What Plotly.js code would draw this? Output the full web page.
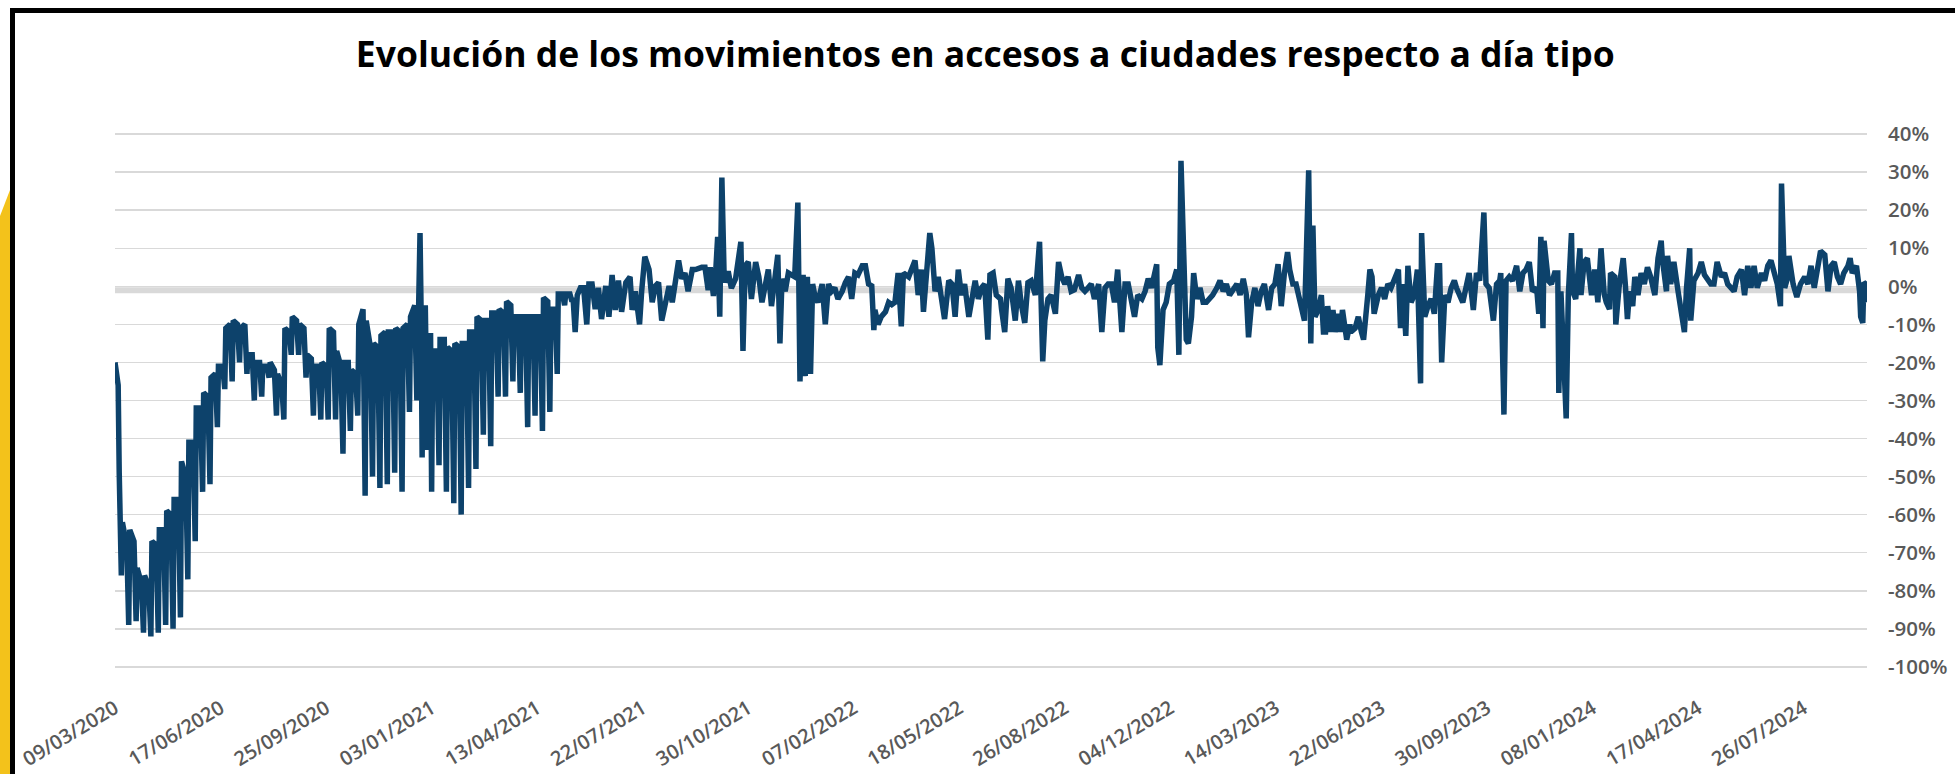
<!DOCTYPE html>
<html lang="es">
<head>
<meta charset="utf-8">
<title>Evolución de los movimientos en accesos a ciudades</title>
<script src="https://cdn.plot.ly/plotly-3.0.1.min.js"></script>
<style>
  html, body { margin: 0; padding: 0; background: #ffffff; }
  #wrap { position: relative; width: 1955px; height: 774px; overflow: hidden; background: #ffffff; }
  #chart { position: absolute; left: 0; top: 0; width: 1955px; height: 774px; }
  .frame-top { position: absolute; left: 10px; top: 8px; width: 1945px; height: 5px; background: #000; }
  .frame-left { position: absolute; left: 10px; top: 8px; width: 5px; height: 766px; background: #000; }
  .yellow { position: absolute; left: 0; top: 190px; width: 10px; height: 584px; background: #f3c21b;
            clip-path: polygon(0 26px, 100% 0, 100% 100%, 0 100%); }
</style>
</head>
<body>
<div id="wrap">
  <div class="yellow"></div>
  <div id="chart"></div>
  <div class="frame-top"></div>
  <div class="frame-left"></div>
</div>
<script>
// ---- Data (day index from 09/03/2020, value in % vs. typical day) ----
const titulo = 'Evolución de los movimientos en accesos a ciudades respecto a día tipo';

// Tick labels every 100 days
const posicionesX = [0, 100, 200, 300, 400, 500, 600, 700, 800, 900, 1000, 1100, 1200, 1300, 1400, 1500, 1600];
const etiquetasX = ['09/03/2020', '17/06/2020', '25/09/2020', '03/01/2021', '13/04/2021', '22/07/2021',
  '30/10/2021', '07/02/2022', '18/05/2022', '26/08/2022', '04/12/2022', '14/03/2023', '22/06/2023',
  '30/09/2023', '08/01/2024', '17/04/2024', '26/07/2024'];
const marcasY = [40, 30, 20, 10, 0, -10, -20, -30, -40, -50, -60, -70, -80, -90, -100];

// 2020: lockdown and recovery
const diasFase1 = [
  0, 2, 3, 4, 5, 6, 7, 9, 11, 12, 13,
  14, 18, 20, 21, 25, 27, 28, 32, 34,
  35, 39, 41, 42, 46, 48, 49, 53, 55,
  56, 60, 62, 63, 67, 69, 70, 74, 76,
  77, 81, 83, 84, 88, 90, 91, 95, 97,
  98, 102, 104, 105, 109, 111, 112, 116, 118,
  119, 123, 125, 126, 130, 132, 133, 137, 139,
  140, 144, 146, 147, 151, 153, 154, 158, 160,
  161, 165, 167, 168, 172, 174, 175, 179, 181,
  182, 186, 188, 189, 193, 195, 196, 200, 202,
  203, 207, 209, 210, 214, 216, 217, 221, 223,
  224, 228, 230, 231, 235, 237, 238, 242, 244,
  245, 249, 251, 252, 256, 258, 259, 263, 265,
  266, 270, 272
];
const valoresFase1 = [
  -20, -24, -26, -49, -68, -76, -62, -65, -66, -80, -89,
  -64, -67, -88, -74, -78, -91, -76, -79, -92,
  -67, -68, -91, -64, -64, -89, -59, -60, -90,
  -56, -56, -87, -46, -50, -77, -41, -41, -67,
  -32, -32, -54, -28, -29, -52, -24, -23, -37,
  -21, -21, -27, -11, -10, -25, -9, -10, -20,
  -11, -10, -23, -18, -18, -30, -20, -20, -29,
  -21, -21, -24, -20, -22, -34, -23, -26, -35,
  -11, -12, -18, -8, -9, -18, -10, -11, -24,
  -18, -19, -34, -21, -21, -35, -20, -21, -35,
  -11, -12, -35, -17, -21, -44, -20, -20, -38,
  -22, -23, -34, -10, -6, -55, -9, -16, -50,
  -15, -16, -53, -13, -12, -52, -12, -12, -49,
  -11, -12, -54
];

// Winter / spring 2021
const diasFase2 = [
  273, 277, 279, 280, 284, 286,
  287, 289, 290, 291, 292, 293,
  294, 296, 297, 299, 300,
  301, 305, 307, 308, 312, 314, 315, 319, 321,
  322, 326, 328, 329, 333, 335, 336, 340, 342,
  343, 347, 349, 350, 354, 356, 357, 361, 363,
  364, 368, 370, 371, 375, 377, 378, 382, 384,
  385, 389, 391, 392, 396, 398, 399, 403, 405,
  406, 410, 412, 413, 417, 419, 420, 424, 426,
  427, 431, 433, 434, 436
];
const valoresFase2 = [
  -11, -10, -33, -8, -5, -30,
  -6, 14, -6, -45, -14, -40,
  -5, -43, -13, -13, -54,
  -17, -17, -47, -14, -14, -54, -16, -17, -57,
  -15, -16, -60, -15, -15, -53, -12, -12, -48,
  -8, -9, -39, -9, -9, -42, -7, -7, -29,
  -6, -7, -29, -4, -5, -25, -8, -8, -28,
  -8, -8, -37, -8, -8, -34, -8, -8, -38,
  -3, -4, -33, -6, -6, -23, -2, -2, -5,
  -2, -2, -4, -3, -12
];

// Mid 2021 – early 2023
const diasFase3 = [
  438, 441, 444, 447, 449, 452, 455, 458, 461, 465,
  468, 471, 474, 477, 480, 484, 488, 490, 493, 497,
  499, 502, 506, 509, 512, 515, 518, 521, 525, 528,
  531, 534, 537, 540, 543, 547, 550, 553, 556, 559,
  562, 564, 567, 569, 571, 573, 575, 577, 578, 581,
  584, 588, 591, 593, 595, 597, 600, 603, 607, 610,
  613, 616, 619, 622, 625, 628, 630, 632, 635, 638,
  641, 644, 647, 649, 652, 654, 656, 659, 661, 663,
  666, 670, 673, 676, 679, 682, 685, 689, 692, 695,
  698, 701, 704, 708, 711, 714, 717, 719, 720, 723,
  726, 730, 733, 736, 739, 742, 745, 747, 752, 758,
  761, 764, 766, 769, 772, 774, 777, 780, 783, 786,
  790, 793, 796, 799, 802, 805, 809, 812, 815, 818,
  821, 824, 827, 829, 832, 835, 839, 840, 843, 846,
  849, 853, 856, 859, 862, 865, 868, 872, 876, 879,
  881, 884, 887, 891, 894, 897, 900, 903, 906, 909,
  913, 916, 919, 922, 925, 928, 932, 935, 938, 941,
  944, 947, 950, 954, 957, 960, 963, 966, 969, 973,
  976, 979, 982, 987, 988, 990, 993, 996, 999, 1003,
  1006, 1008, 1010, 1013, 1015, 1017, 1020, 1022, 1025, 1028,
  1031, 1034, 1037, 1040, 1044, 1047, 1050, 1053, 1056, 1059,
  1063, 1066, 1069, 1072, 1074, 1077, 1080, 1083, 1086, 1089,
  1093, 1096, 1099, 1102, 1105, 1108, 1111, 1113, 1116, 1119,
  1123
];
const valoresFase3 = [
  -2.3, -0.4, -0.4, -10, 0.6, 0.6, -6, -0.4, -8.6, 0.1,
  -8, 3, -6.2, 1.5, -6.7, 1, 2.5, -6.2, -1.3, -10,
  -1.3, 7.8, 4.4, -4.2, 0.1, 1, -9, -4.8, 0.1, -4.2,
  2, 6.8, 2, 3.5, -1.3, 4.4, 4.4, 4.8, 5, 5,
  -1, 5, -2.5, 3, 13, -8, 28.6, 4.4, 1, 4,
  -0.5, 2, 7, 11.7, -17, 5.4, 6.4, -3.3, 6.4, 2.5,
  -4.2, 0.6, 4.4, -5.2, 0.6, 8.3, -15, 2, -1.3, 3.5,
  3, 2.5, 22, -25, 3, -23.6, 2.5, -23, 0.6, -2.3,
  -4.2, 0.6, -10, 0.6, -1.3, -0.4, -3.3, -1.3, 1, 2.5,
  -3.3, 3.5, 3, 5.4, 5.4, 0.6, 0.1, -11.5, -6.2, -10,
  -8, -6.7, -4.2, -4.8, -4.2, 3.5, -10.5, 3.5, 2.5, 6.8,
  -2.3, 4.4, -6.7, 2.5, 14, 10, -1.3, 2.5, -3.3, -8.6,
  1.5, 0.6, -8, 4.4, -2.3, 0.6, -8, -3.3, 1.5, -3.3,
  -0.4, 0.6, -14, 3, 3.5, -2.3, -3.3, -6, -12, 2,
  -0.4, -9, 1.5, -5.2, -9.6, 1, 1.5, -2.3, 11.7, -19.7,
  -9, -3.3, -2.3, -7.2, 6.4, 2.5, 0.6, 2.5, -1.3, -0.9,
  3, -0.4, -1.3, -0.4, 0.6, -3.3, 0.6, -12, -0.4, 0.6,
  0.6, -4.2, 4.4, -12, 0.6, 0.6, -4.2, -8, -2.3, -3.3,
  -1.3, 2, -0.4, 5.8, -16, -20.7, -6.2, -4.2, 0.6, 1.5,
  4.4, -18, 33, -0.4, -14, -15, -8, 3.5, -3.3, -0.4,
  -4.2, -4.2, -3.3, -2.3, -0.4, 1.5, -1.3, 0.6, -2.3, -1.3,
  0.6, -2.3, 2, -2.3, -13.4, -4.2, -0.4, -5.2, -1.3, 0.6,
  -6.2, -0.4, 0.6, 5.8, -5.2, 3.5, 9, 4.4, 0.6, 0.6,
  -4.2
];

// 2023 – 2024
const diasFase4 = [
  1124, 1127, 1131, 1133, 1135, 1137, 1140, 1143, 1145, 1147,
  1149, 1152, 1154, 1156, 1159, 1161, 1163, 1167, 1170, 1171,
  1175, 1178, 1181, 1183, 1187, 1189, 1191, 1193, 1197, 1200,
  1203, 1206, 1209, 1212, 1216, 1218, 1220, 1223, 1225, 1228,
  1231, 1234, 1237, 1238, 1241, 1244, 1247, 1250, 1253, 1255,
  1257, 1260, 1263, 1266, 1269, 1271, 1274, 1277, 1280, 1283,
  1287, 1290, 1293, 1297, 1299, 1302, 1306, 1309, 1312, 1313,
  1316, 1318, 1321, 1324, 1328, 1331, 1334, 1337, 1340, 1343,
  1347, 1349, 1351, 1353, 1354, 1358, 1361, 1364, 1367, 1368,
  1370, 1372, 1375, 1377, 1380, 1381, 1384, 1388, 1389, 1392,
  1395, 1399, 1402, 1405, 1408, 1411, 1413, 1416, 1417, 1421,
  1422, 1425, 1429, 1431, 1433, 1435, 1438, 1440, 1443, 1446,
  1449, 1452, 1455, 1459, 1462, 1465, 1466, 1470, 1471, 1474,
  1477, 1481, 1484, 1487, 1489, 1492, 1493, 1496, 1500, 1503,
  1506, 1509, 1512, 1515, 1518, 1522, 1525, 1528, 1531, 1534,
  1537, 1541, 1544, 1547, 1550, 1553, 1556, 1560, 1563, 1566,
  1569, 1572, 1575, 1578, 1579, 1582, 1585, 1586, 1590, 1593,
  1594, 1597, 1601, 1604, 1607, 1610, 1613, 1616, 1620, 1623,
  1626, 1629, 1632, 1635, 1638, 1642, 1644, 1646, 1650, 1653,
  1654, 1656, 1657, 1659, 1660
];
const valoresFase4 = [
  -5, -9, 30.5, -15, 16, -8, -6.2, -2.3, -12, -12,
  -5.2, -12, -6.2, -12, -7.2, -12, -6.2, -14, -10, -12,
  -11, -8, -12, -14, -2.3, 4.4, 2.5, -7.2, -2.3, -0.4,
  -3.3, 0.6, -0.4, 1.5, 4.4, -11, 0.6, -13, 5.4, -4.2,
  -2.3, 4.4, -25.5, 14, -8, -5.2, -3.3, -7.2, 5.4, 5.4,
  -20, -2.3, -4.2, -0.4, 1.5, -0.4, -2.3, -4.2, -0.4, 3.5,
  -6.2, 3.5, 1.5, 19.4, 0.6, -0.4, -9, 0.6, 1.5, 3.5,
  -33.7, 1.5, 2.5, 1.5, 5.4, -1.3, 3.5, 4.4, 6.4, -1.3,
  -0.4, -7.2, 13, -11, 12, 1.5, 0.6, 3.5, 3.5, -28,
  -1.3, -15, -34.7, -2.3, 14, -1.3, -3.3, 10, -2.3, 6.4,
  7.4, -2.3, 4.4, -4.2, 10, -2, -4.2, -6, 3.5, 2.5,
  -10, -0.4, 7.4, 0.6, -8.6, -1.3, -5.2, 2.5, -2.3, 3.5,
  0.6, 5, 2.5, -2.3, 7.4, 12, 7.4, -1.3, 8, 0.6,
  6.4, -1.3, -6.2, -12, -0.4, 10, -9, 1.5, 3.5, 6.4,
  3, 1.5, 0.6, 0.6, 6.4, 2.5, 3.5, 0.6, -0.4, -1.3,
  2.5, 4.4, -2.3, 5.4, -0.4, 5.4, -0.4, 3.5, 1.5, 5.4,
  6.8, 3.5, 0.6, -5.2, 27, -0.4, 2.5, 8, 0.6, -2.3,
  -2.3, 0.6, 2.5, 0.6, 5.4, -0.4, 4.4, 9.3, 8.3, -1.3,
  5.4, 6.4, 2.5, 0.6, 3.5, 5.4, 7.4, 3.5, 5.4, -1.3,
  -8, -9.6, 1, 0.6, -4.2
];

// ---- Build the series ----
const dias = [].concat(diasFase1, diasFase2, diasFase3, diasFase4);
const valores = [].concat(valoresFase1, valoresFase2, valoresFase3, valoresFase4);

const trace = {
  type: 'scatter',
  mode: 'lines',
  x: dias,
  y: valores,
  line: { color: '#0d426b', width: 5.5, shape: 'linear' },
  hoverinfo: 'skip',
  showlegend: false
};

const fontTicks = { family: 'Open Sans, Noto Sans, sans-serif', color: '#595959', weight: 600 };

const layout = {
  width: 1955,
  height: 774,
  margin: { l: 115, r: 88, t: 133, b: 106, pad: 0 },
  paper_bgcolor: 'rgba(0,0,0,0)',
  plot_bgcolor: 'rgba(0,0,0,0)',
  showlegend: false,
  title: {
    text: titulo,
    xref: 'container', yref: 'container',
    x: 0.504, xanchor: 'center',
    y: 0.93, yanchor: 'middle',
    font: { family: 'Open Sans, Noto Sans, sans-serif', size: 35.5, color: '#000000', weight: 700 }
  },
  xaxis: {
    range: [0, 1660],
    tickmode: 'array',
    tickvals: posicionesX,
    ticktext: etiquetasX,
    tickangle: -31,
    showgrid: false,
    zeroline: false,
    showline: false,
    ticks: '',
    ticklabelstandoff: 24,
    tickfont: Object.assign({ size: 20 }, fontTicks),
    fixedrange: true
  },
  yaxis: {
    side: 'right',
    range: [-100.3, 40.3],
    tickmode: 'array',
    tickvals: marcasY,
    ticktext: marcasY.map(v => v + '%'),
    showgrid: true,
    gridcolor: '#d9d9d9',
    gridwidth: 1.5,
    zeroline: false,
    showline: false,
    ticks: '',
    ticklabelstandoff: 20,
    tickfont: Object.assign({ size: 20.5 }, fontTicks),
    fixedrange: true
  },
  shapes: [{
    type: 'line', xref: 'paper', yref: 'y',
    x0: 0, x1: 1, y0: -1, y1: -1,
    line: { color: '#d9d9d9', width: 6 },
    layer: 'below'
  }]
};

Plotly.newPlot('chart', [trace], layout, { staticPlot: true, displayModeBar: false });
</script>
</body>
</html>
